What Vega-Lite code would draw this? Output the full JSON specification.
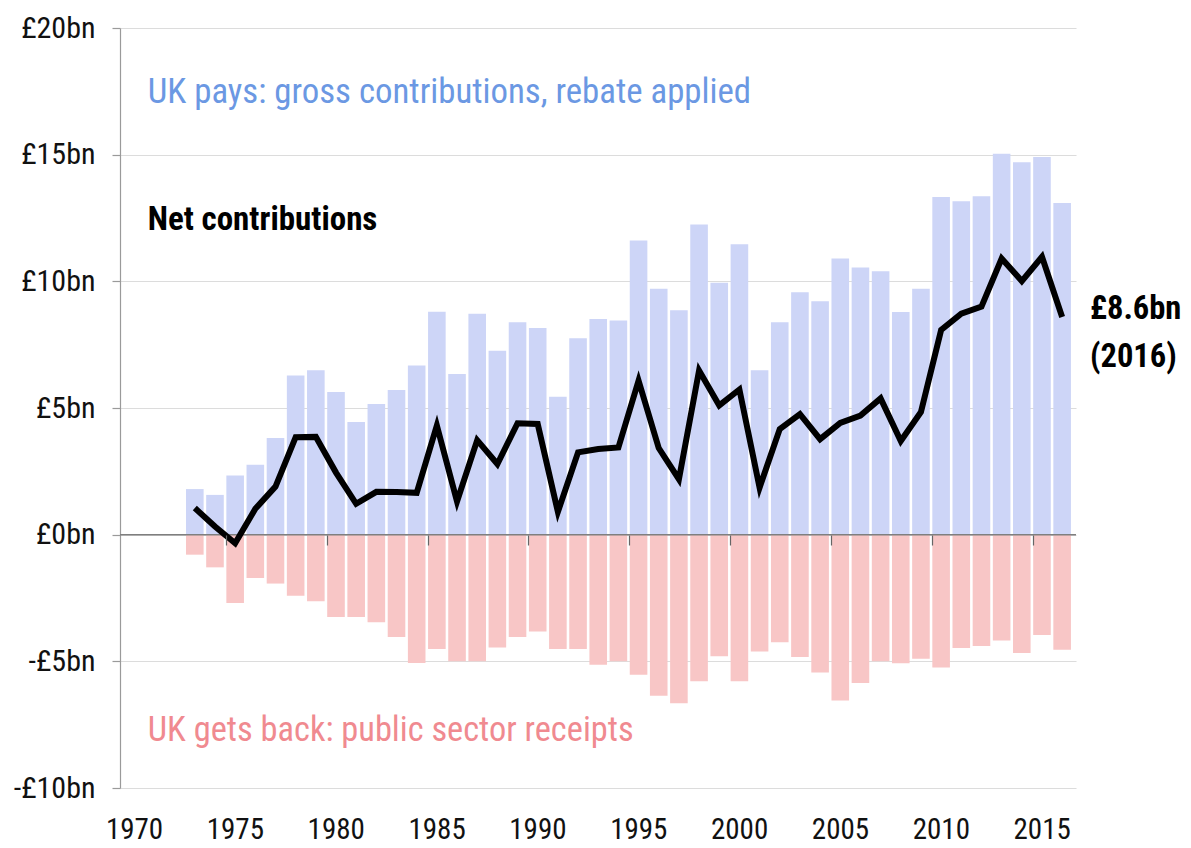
{
  "$schema": "https://vega.github.io/schema/vega-lite/v6.json",
  "width": 956,
  "height": 760,
  "autosize": {"type": "none"},
  "padding": {"left": 120, "top": 28, "right": 115, "bottom": 60},
  "background": "white",
  "config": {
    "view": {"stroke": null},
    "font": "Roboto Condensed, Liberation Sans, sans-serif"
  },
  "data": {
    "values": [
      {"year": 1973, "gross": 1.80, "receipts": -0.79, "net": 1.05},
      {"year": 1974, "gross": 1.57, "receipts": -1.29, "net": 0.32},
      {"year": 1975, "gross": 2.34, "receipts": -2.70, "net": -0.34},
      {"year": 1976, "gross": 2.76, "receipts": -1.71, "net": 1.02},
      {"year": 1977, "gross": 3.82, "receipts": -1.93, "net": 1.90},
      {"year": 1978, "gross": 6.28, "receipts": -2.41, "net": 3.85},
      {"year": 1979, "gross": 6.49, "receipts": -2.63, "net": 3.86},
      {"year": 1980, "gross": 5.63, "receipts": -3.25, "net": 2.45},
      {"year": 1981, "gross": 4.45, "receipts": -3.25, "net": 1.22},
      {"year": 1982, "gross": 5.16, "receipts": -3.46, "net": 1.69},
      {"year": 1983, "gross": 5.71, "receipts": -4.04, "net": 1.68},
      {"year": 1984, "gross": 6.68, "receipts": -5.07, "net": 1.65},
      {"year": 1985, "gross": 8.80, "receipts": -4.51, "net": 4.31},
      {"year": 1986, "gross": 6.34, "receipts": -5.00, "net": 1.31},
      {"year": 1987, "gross": 8.72, "receipts": -5.00, "net": 3.73},
      {"year": 1988, "gross": 7.26, "receipts": -4.45, "net": 2.79},
      {"year": 1989, "gross": 8.38, "receipts": -4.04, "net": 4.40},
      {"year": 1990, "gross": 8.16, "receipts": -3.82, "net": 4.37},
      {"year": 1991, "gross": 5.44, "receipts": -4.51, "net": 0.90},
      {"year": 1992, "gross": 7.75, "receipts": -4.51, "net": 3.25},
      {"year": 1993, "gross": 8.51, "receipts": -5.13, "net": 3.38},
      {"year": 1994, "gross": 8.45, "receipts": -5.00, "net": 3.44},
      {"year": 1995, "gross": 11.61, "receipts": -5.53, "net": 6.08},
      {"year": 1996, "gross": 9.71, "receipts": -6.36, "net": 3.42},
      {"year": 1997, "gross": 8.86, "receipts": -6.65, "net": 2.19},
      {"year": 1998, "gross": 12.24, "receipts": -5.79, "net": 6.48},
      {"year": 1999, "gross": 9.94, "receipts": -4.80, "net": 5.10},
      {"year": 2000, "gross": 11.46, "receipts": -5.79, "net": 5.73},
      {"year": 2001, "gross": 6.49, "receipts": -4.61, "net": 1.86},
      {"year": 2002, "gross": 8.38, "receipts": -4.25, "net": 4.17},
      {"year": 2003, "gross": 9.57, "receipts": -4.83, "net": 4.76},
      {"year": 2004, "gross": 9.21, "receipts": -5.44, "net": 3.77},
      {"year": 2005, "gross": 10.90, "receipts": -6.55, "net": 4.41},
      {"year": 2006, "gross": 10.55, "receipts": -5.86, "net": 4.70},
      {"year": 2007, "gross": 10.40, "receipts": -5.00, "net": 5.38},
      {"year": 2008, "gross": 8.79, "receipts": -5.08, "net": 3.70},
      {"year": 2009, "gross": 9.71, "receipts": -4.90, "net": 4.84},
      {"year": 2010, "gross": 13.33, "receipts": -5.24, "net": 8.08},
      {"year": 2011, "gross": 13.16, "receipts": -4.47, "net": 8.72},
      {"year": 2012, "gross": 13.36, "receipts": -4.39, "net": 9.00},
      {"year": 2013, "gross": 15.04, "receipts": -4.18, "net": 10.90},
      {"year": 2014, "gross": 14.70, "receipts": -4.67, "net": 10.01},
      {"year": 2015, "gross": 14.91, "receipts": -3.96, "net": 10.97},
      {"year": 2016, "gross": 13.09, "receipts": -4.54, "net": 8.59}
    ]
  },
  "layer": [
    {
      "mark": {"type": "bar", "width": 17.6, "xOffset": 9.3, "color": "#cdd5f7"},
      "encoding": {
        "x": {
          "field": "year", "type": "quantitative", "title": null,
          "scale": {"domain": [1970, 2016.9], "nice": false, "zero": false},
          "axis": {
            "orient": "bottom",
            "values": [1970, 1975, 1980, 1985, 1990, 1995, 2000, 2005, 2010, 2015],
            "format": "d", "ticks": false, "domain": false, "grid": false,
            "labelOffset": 9, "labelPadding": 27, "labelFontSize": 29,
            "labelColor": "#111111", "labelFlush": false, "labelOverlap": false
          }
        },
        "y": {
          "field": "gross", "type": "quantitative", "title": null,
          "scale": {"domain": [-10, 20], "nice": false, "zero": false},
          "axis": {
            "values": [-10, -5, 0, 5, 10, 15, 20],
            "grid": true, "gridColor": "#dcdcdc", "gridWidth": 1.2,
            "domainColor": "#9a9a9a", "domainWidth": 1.2,
            "tickColor": "#9a9a9a", "tickSize": 8, "tickWidth": 1.2,
            "labelPadding": 17, "labelFontSize": 30, "labelColor": "#111111",
            "labelFlush": false, "labelOverlap": false,
            "labelExpr": "datum.value < 0 ? '-£' + abs(datum.value) + 'bn' : '£' + datum.value + 'bn'"
          }
        }
      }
    },
    {
      "mark": {"type": "bar", "width": 17.6, "xOffset": 9.3, "color": "#f8c6c6"},
      "encoding": {
        "x": {
          "field": "year", "type": "quantitative", "title": null,
          "axis": {
            "orient": "bottom", "offset": -253,
            "values": [1975, 1980, 1985, 1990, 1995, 2000, 2005, 2010, 2015],
            "labels": false, "domain": false, "grid": false,
            "ticks": true, "tickSize": 10, "tickColor": "#666666", "tickWidth": 1.2,
            "zindex": 1
          }
        },
        "y": {"field": "receipts", "type": "quantitative", "title": null}
      }
    },
    {
      "data": {"values": [{}]},
      "mark": {"type": "rule", "color": "#7f7f7f", "strokeWidth": 1.5},
      "encoding": {"y": {"datum": 0}}
    },
    {
      "mark": {"type": "line", "color": "#000000", "strokeWidth": 6, "xOffset": 9.3},
      "encoding": {
        "x": {"field": "year", "type": "quantitative", "axis": null},
        "y": {"field": "net", "type": "quantitative", "title": null}
      }
    },
    {
      "data": {"values": [{}]},
      "mark": {"type": "text", "text": "UK pays: gross contributions, rebate applied", "align": "left", "baseline": "alphabetic", "fontSize": 34.8, "color": "#6b98e3"},
      "encoding": {"x": {"datum": 1971.13, "axis": null}, "y": {"datum": 17.04}}
    },
    {
      "data": {"values": [{}]},
      "mark": {"type": "text", "text": "Net contributions", "align": "left", "baseline": "alphabetic", "fontSize": 33, "fontWeight": "bold", "color": "#000000"},
      "encoding": {"x": {"datum": 1971.13, "axis": null}, "y": {"datum": 12.03}}
    },
    {
      "data": {"values": [{}]},
      "mark": {"type": "text", "text": "UK gets back: public sector receipts", "align": "left", "baseline": "alphabetic", "fontSize": 34.4, "color": "#f08a90"},
      "encoding": {"x": {"datum": 1971.13, "axis": null}, "y": {"datum": -8.14}}
    },
    {
      "data": {"values": [{}]},
      "mark": {"type": "text", "text": "£8.6bn", "align": "left", "baseline": "alphabetic", "fontSize": 32.5, "fontWeight": "bold", "color": "#000000"},
      "encoding": {"x": {"datum": 2017.84, "axis": null}, "y": {"datum": 8.51}}
    },
    {
      "data": {"values": [{}]},
      "mark": {"type": "text", "text": "(2016)", "align": "left", "baseline": "alphabetic", "fontSize": 32.5, "fontWeight": "bold", "color": "#000000"},
      "encoding": {"x": {"datum": 2017.84, "axis": null}, "y": {"datum": 6.62}}
    }
  ],
  "resolve": {"axis": {"x": "independent"}}
}
